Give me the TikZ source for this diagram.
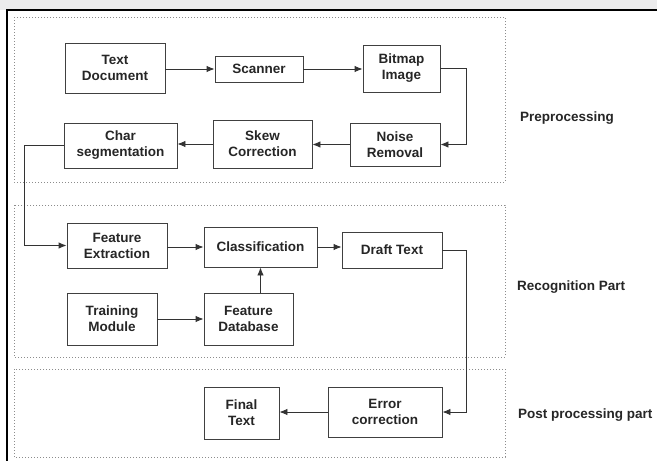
\documentclass[tikz,border=0pt]{standalone}
\usepackage{fontspec}
\setmainfont{Liberation Sans}
\usetikzlibrary{arrows.meta}
\begin{document}
\begin{tikzpicture}[x=1pt,y=-1pt,
  font=\fontsize{13.5}{16}\selectfont\bfseries,
  blk/.style={draw=black!75,line width=0.9pt,fill=white,align=center,inner sep=1pt,text=black!85},
  sect/.style={draw=black!45,line width=0.8pt,dash pattern=on 1pt off 2pt},
  conn/.style={draw=black!80,line width=0.9pt,-{Latex[length=8pt,width=6.5pt]}},
  lbl/.style={anchor=west,text=black!85,inner sep=0pt}]
\useasboundingbox (0,0) rectangle (657,461);
\fill[white] (0,0) rectangle (657,461);
\fill[blue!6!black!8!white] (0,0) rectangle (657,10);
\draw[black,line width=1.6pt] (657,10) -- (7,10) -- (7,461);
% sections
\draw[sect] (14,17) rectangle (505,182);
\draw[sect] (14,205) rectangle (505,357);
\draw[sect] (14,369) rectangle (505,457);
% blocks
\node[blk,minimum width=100,minimum height=50] (td) at (115,68) {Text\\Document};
\node[blk,minimum width=88,minimum height=26] (sc) at (259,69) {Scanner};
\node[blk,minimum width=77,minimum height=47] (bm) at (401.5,68.5) {Bitmap\\Image};
\node[blk,minimum width=90,minimum height=43] (nr) at (395,144.5) {Noise\\Removal};
\node[blk,minimum width=99,minimum height=48] (sk) at (262.5,144) {Skew\\Correction};
\node[blk,minimum width=113,minimum height=45] (cs) at (120.5,145.5) {Char\\segmentation};
\node[blk,minimum width=100,minimum height=45] (fe) at (117,245.5) {Feature\\Extraction};
\node[blk,minimum width=113,minimum height=40] (cl) at (260.5,247) {Classification};
\node[blk,minimum width=100,minimum height=36] (dt) at (392,250) {Draft Text};
\node[blk,minimum width=90,minimum height=52] (tm) at (112,319) {Training\\Module};
\node[blk,minimum width=89,minimum height=52] (fd) at (248.5,319) {Feature\\Database};
\node[blk,minimum width=75,minimum height=52] (ft) at (241.5,413) {Final\\Text};
\node[blk,minimum width=114,minimum height=50] (ec) at (385,412) {Error\\correction};
% labels
\node[lbl] (l1) at (520,118) {Preprocessing};
\node[lbl] (l2) at (517,287) {Recognition Part};
\node[lbl] (l3) at (518,415) {Post processing part};
% connectors
\draw[conn] (td.east |- sc) -- (sc.west);
\draw[conn] (sc.east) -- (bm.west |- sc);
\draw[conn] (bm.east) -- ++(26,0) |- (nr.east);
\draw[conn] (nr.west) -- (sk.east |- nr.west);
\draw[conn] (sk.west) -- (cs.east |- sk.west);
\draw[conn] (cs.west) -- ++(-39,0) |- (fe.west);
\draw[conn] (fe.east |- cl) -- (cl.west);
\draw[conn] (cl.east) -- (dt.west |- cl);
\draw[conn] (fd.north -| cl) -- (cl.south);
\draw[conn] (tm.east) -- (fd.west);
\draw[conn] (dt.east) -- ++(24,0) |- (ec.east);
\draw[conn] (ec.west) -- (ft.east |- ec.west);
\end{tikzpicture}
\end{document}
